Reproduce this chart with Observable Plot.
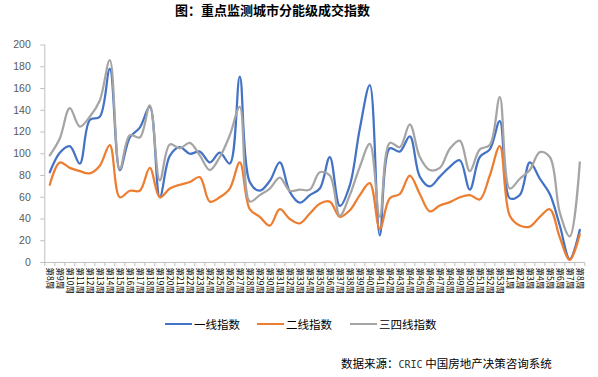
<!DOCTYPE html>
<html><head><meta charset="utf-8">
<script src="https://cdn.jsdelivr.net/npm/d3@7"></script>
<script src="https://cdn.jsdelivr.net/npm/@observablehq/plot@0.6"></script>
<style>
body{margin:0;background:#fff;font-family:"Noto Sans CJK SC","Noto Sans",sans-serif;}
#wrap{position:relative;width:598px;height:377px;overflow:hidden;}
#title{position:absolute;left:175px;top:1px;font-weight:bold;font-size:13px;line-height:18px;color:#000;white-space:nowrap;}
#chart{position:absolute;left:0;top:30px;}
#legend{position:absolute;top:316px;left:0;width:598px;height:16px;font-size:11.5px;color:#000;}
.lg{position:absolute;top:0;display:flex;align-items:center;height:16px;white-space:nowrap;}
.sw{display:inline-block;width:27px;height:2.5px;margin-right:2px;}
#caption{position:absolute;left:341px;top:355px;font-size:11.5px;color:#000;white-space:nowrap;line-height:16px;}
#caption .m{font-family:"DejaVu Sans Mono",monospace;font-size:10px;color:#333;}
</style>
</head><body>
<div id="wrap">
  <div id="title">图：重点监测城市分能级成交指数</div>
  <div id="chart"></div>
  <div id="legend"></div>
  <div id="caption">数据来源：<span class="m">CRIC</span> 中国房地产决策咨询系统</div>
</div>
<script>
const weekLabels = ["第8周","第9周","第10周","第11周","第12周","第13周","第14周","第15周","第16周","第17周",
"第18周","第19周","第20周","第21周","第22周","第23周","第24周","第25周","第26周","第27周",
"第28周","第29周","第30周","第31周","第32周","第33周","第34周","第35周","第36周","第37周",
"第38周","第39周","第40周","第41周","第42周","第43周","第44周","第45周","第46周","第47周",
"第48周","第49周","第50周","第51周","第52周","第53周","第1周","第2周","第3周","第4周",
"第5周","第6周","第7周","第8周"];
const seriesNames = ["一线指数","二线指数","三四线指数"];
const seriesColors = ["#4472C4","#ED7D31","#A5A5A5"];
const tier1 = [83,101,107,91,131,134,178,85,115,124,143,60,98,106,
  100,102,92,101,91,171,74,66,75,92,65,55,62,
  68,97,52,71,123,163,25,105,102,116,79,70,79,88,
  94,67,97,104,130,59,62,92,77,63,34,3,30];
const tier2 = [71.5,92,87,84,82,89,108,60,66,66,87,60,68,71.5,
  74,78.5,56,60,68,92,49,42,34,49,40,36,45,
  54,56,42,48,62,73,31,59,63,80,63,47,52.5,55.5,
  60,62,58,80,107,43,34,33,42,49,23,2.5,26];
const tier3 = [98.5,114,142,125,134,149,186,86,117,115,144.5,75.5,108.6,105,
  110,98.5,85,97,117,143,56,62,68,78,66,67,67,
  83,80,43,62,88,109,42,110,106,127,97,85,87,104.6,
  112,84,104,108,152,68,77,85,101.5,97,46,24,92];
const yTicks = [0,20,40,60,80,100,120,140,160,180,200];

const rows = [];
[tier1, tier2, tier3].forEach((arr, s) => arr.forEach((v, i) => rows.push({i: i + 0.5, v, s: seriesNames[s]})));
const centers = weekLabels.map((_, i) => i + 0.5);
const bounds = d3.range(0, weekLabels.length + 1);

const chart = Plot.plot({
  width: 598,
  height: 285,
  marginLeft: 44.3,
  marginRight: 13.7,
  marginTop: 14.5,
  marginBottom: 53,
  x: {domain: [0, weekLabels.length], axis: null},
  y: {domain: [0, 200], axis: null},
  color: {domain: seriesNames, range: seriesColors},
  style: {fontFamily: '"Noto Sans CJK SC","Noto Sans",sans-serif', background: "#fff", overflow: "visible"},
  marks: [
    Plot.axisY({ticks: yTicks, tickSize: 4, tickPadding: 10, stroke: "#bfbfbf", fill: "#595959", fontSize: 10.5, fontFamily: '"Liberation Sans",sans-serif', label: null}),
    Plot.axisX({ticks: bounds, tickSize: 4, tickFormat: () => "", stroke: "#bfbfbf", label: null}),
    Plot.axisX({ticks: centers, tickSize: 0, tickPadding: 5, tickRotate: 90, tickFormat: d => weekLabels[Math.floor(d)], fill: "#000", fontSize: 8.5, label: null}),
    Plot.ruleX([0], {stroke: "#bfbfbf"}),
    Plot.ruleY([0], {stroke: "#bfbfbf"}),
    Plot.line(rows, {x: "i", y: "v", z: "s", stroke: "s", strokeWidth: 2.25, curve: "catmull-rom"})
  ]
});
document.getElementById("chart").appendChild(chart);

const legend = document.getElementById("legend");
const lefts = [165, 257, 350];
seriesNames.forEach((n, k) => {
  const d = document.createElement("div");
  d.className = "lg";
  d.style.left = lefts[k] + "px";
  d.innerHTML = `<span class="sw" style="background:${seriesColors[k]}"></span><span>${n}</span>`;
  legend.appendChild(d);
});
</script>
</body></html>
